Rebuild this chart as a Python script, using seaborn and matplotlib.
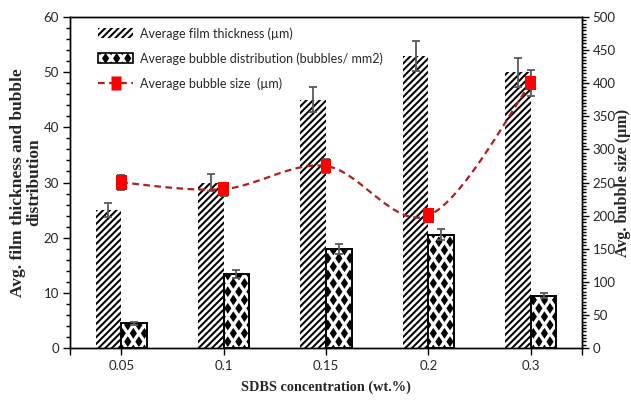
import numpy as np
import pandas as pd
import matplotlib
matplotlib.use("Agg")
import matplotlib.pyplot as plt
import matplotlib.hatch as mhatch
from matplotlib.path import Path
from matplotlib.patches import PathPatch, Patch
from matplotlib.lines import Line2D
from matplotlib.ticker import MultipleLocator, FixedLocator
import seaborn as sns

# ---------------- data ----------------
conc = ["0.05", "0.1", "0.15", "0.2", "0.3"]
thickness = [25.0, 30.0, 45.0, 53.0, 50.0]
thickness_err = [1.3, 1.6, 2.3, 2.7, 2.6]
bubble_dist = [4.5, 13.4, 18.0, 20.5, 9.5]
bubble_dist_err = [0.3, 0.7, 0.9, 1.0, 0.4]
bubble_size = [250.0, 240.0, 275.0, 200.0, 400.0]
bubble_size_err = [12.0, 10.0, 10.0, 10.0, 20.0]

lab_thick = "Average film thickness (\u00b5m)"
lab_dist = "Average bubble distribution (bubbles/ mm2)"
lab_size = "Average bubble size  (\u00b5m)"


# ------------- diamond hatch (replaces '*' star hatch) -------------
class DiamondHatch(mhatch.HatchPatternBase):
    def __init__(self, hatch, density):
        n = hatch.count("*")
        self.ncol = 9 * n
        self.nrow = 12 * n
        if n == 0:
            self.num_vertices = 0
            return
        shapes = 0
        for r in range(self.nrow + 1):
            shapes += (self.ncol + 1) if r % 2 == 0 else self.ncol
        self.num_vertices = shapes * 5

    def set_vertices_and_codes(self, vertices, codes):
        hw, hh = 0.024, 0.036
        shape = np.array([[0, -hh], [hw, 0], [0, hh], [-hw, 0], [0, -hh]])
        sc = np.array([Path.MOVETO, Path.LINETO, Path.LINETO, Path.LINETO,
                       Path.CLOSEPOLY], dtype=Path.code_type)
        vparts, cparts = [], []
        for r in range(self.nrow + 1):
            y = r / self.nrow
            if r % 2 == 0:
                xs = np.linspace(0, 1, self.ncol + 1)
            else:
                xs = (np.arange(self.ncol) + 0.5) / self.ncol
            for x in xs:
                vparts.append(shape + [x, y])
                cparts.append(sc)
        np.concatenate(vparts, out=vertices)
        np.concatenate(cparts, out=codes)


mhatch._hatch_types = [DiamondHatch if t is mhatch.Stars else t
                       for t in mhatch._hatch_types]

# ---------------- style ----------------
sns.set_style("white")
plt.rcParams["font.family"] = ["Lato", "DejaVu Sans"]
plt.rcParams["hatch.linewidth"] = 1.45
serif_bold = dict(family=["Liberation Serif", "DejaVu Serif"], weight="bold")
tick_color = "#262626"
line_red = "#B01E1E"
marker_red = "#FF0000"
err_color = "#595959"

fig = plt.figure(figsize=(6.31, 4.07), dpi=100)
ax = fig.add_axes([70 / 631, 1 - 348 / 407, 512 / 631, 331 / 407])

df = pd.DataFrame({
    "conc": conc * 2,
    "value": thickness + bubble_dist,
    "series": [lab_thick] * len(conc) + [lab_dist] * len(conc),
})
sns.barplot(data=df, x="conc", y="value", hue="series", order=conc,
            hue_order=[lab_thick, lab_dist], palette=["white", "white"],
            width=0.5, errorbar=None, legend=False, saturation=1,
            edgecolor="black", ax=ax)

thick_bars, dist_bars = ax.containers[0], ax.containers[1]
for p in thick_bars:
    p.set_hatch("/////")
    p.set_edgecolor("black")
    p.set_linewidth(0)
for p in dist_bars:
    p.set_hatch("*")
    p.set_edgecolor("black")
    p.set_linewidth(1.4)

for bars, vals, errs in [(thick_bars, thickness, thickness_err),
                         (dist_bars, bubble_dist, bubble_dist_err)]:
    xs = [p.get_x() + p.get_width() / 2 for p in bars]
    ax.errorbar(xs, vals, yerr=errs, fmt="none", ecolor=err_color,
                elinewidth=1.3, capsize=3, capthick=1.3, zorder=4)

ax.set_xlim(-0.5, len(conc) - 0.5)
ax.set_ylim(0, 60)
ax.yaxis.set_major_locator(MultipleLocator(10))
ax.yaxis.set_minor_locator(MultipleLocator(2))
ax.xaxis.set_minor_locator(FixedLocator([-0.5, len(conc) - 0.5]))
ax.tick_params(axis="both", which="both", direction="out", colors="black",
               labelcolor=tick_color, labelsize=9.5, width=1)
ax.tick_params(axis="y", which="major", length=5, left=True, pad=3)
ax.tick_params(axis="y", which="minor", length=3, left=True)
ax.tick_params(axis="x", which="both", length=5, bottom=True, pad=4)
ax.set_xlabel("SDBS concentration (wt.%)", fontsize=10.3, **serif_bold)
ax.set_ylabel("Avg. film thickness and bubble\ndistribution", fontsize=12.5,
              linespacing=1.0, **serif_bold)
ax.yaxis.label.set_va("center")
ax.yaxis.set_label_coords(-0.085, 0.5)
ax.xaxis.set_label_coords(0.5, -0.098)

# ---------------- secondary axis: bubble size ----------------
ax2 = ax.twinx()
xpos = np.arange(len(conc), dtype=float)


def smooth_path(x, y):
    P = np.column_stack([x, y]).astype(float)
    Pe = np.vstack([P[0], P, P[-1]])
    verts = [P[0]]
    codes = [Path.MOVETO]
    for i in range(len(P) - 1):
        p0, p1, p2, p3 = Pe[i], Pe[i + 1], Pe[i + 2], Pe[i + 3]
        verts += [p1 + (p2 - p0) / 6, p2 - (p3 - p1) / 6, p2]
        codes += [Path.CURVE4] * 3
    return Path(verts, codes)


ax2.add_patch(PathPatch(smooth_path(xpos, bubble_size), facecolor="none",
                        edgecolor=line_red, lw=1.6, linestyle=(0, (3, 2)),
                        transform=ax2.transData, zorder=3))
ax2.errorbar(xpos, bubble_size, yerr=bubble_size_err, fmt="none",
             ecolor=err_color, elinewidth=1.3, capsize=3, capthick=1.3,
             zorder=4)
rect_marker = [(-0.38, -0.5), (0.38, -0.5), (0.38, 0.5), (-0.38, 0.5),
               (-0.38, -0.5)]
sns.scatterplot(x=xpos, y=bubble_size, marker=rect_marker, s=105,
                color=marker_red, edgecolor="none", linewidth=0, ax=ax2,
                zorder=5, legend=False)
ax2.set_ylim(0, 500)
ax2.yaxis.set_major_locator(MultipleLocator(50))
ax2.yaxis.set_minor_locator(MultipleLocator(5))
ax2.tick_params(axis="y", which="both", direction="out", colors="black",
                labelcolor=tick_color, labelsize=9.5, width=1, right=True,
                pad=2.5)
ax2.tick_params(axis="y", which="major", length=5)
ax2.tick_params(axis="y", which="minor", length=3)
ax2.set_ylabel("Avg. bubble size (\u00b5m)", fontsize=11.5, **serif_bold)
ax2.yaxis.label.set_va("center")
ax2.yaxis.set_label_coords(1.081, 0.5)

for a in (ax, ax2):
    for s in a.spines.values():
        s.set_visible(True)
        s.set_color("black")
        s.set_linewidth(1.0)

# ---------------- legend ----------------
handles = [
    Patch(facecolor="white", edgecolor="black", hatch="/////", lw=0),
    Patch(facecolor="white", edgecolor="black", hatch="*", lw=1.2),
    Line2D([], [], color=line_red, lw=1.6, linestyle=(0, (3, 2)),
           marker=rect_marker, markersize=10, markerfacecolor=marker_red,
           markeredgecolor="none"),
]
ax2.legend(handles, [lab_thick, lab_dist, lab_size], loc="upper left",
           bbox_to_anchor=(0.045, 0.985), frameon=False, fontsize=9,
           handlelength=2.8, handleheight=0.8, handletextpad=0.55,
           labelspacing=1.0, borderaxespad=0)

fig.savefig("out.png", dpi=100)
